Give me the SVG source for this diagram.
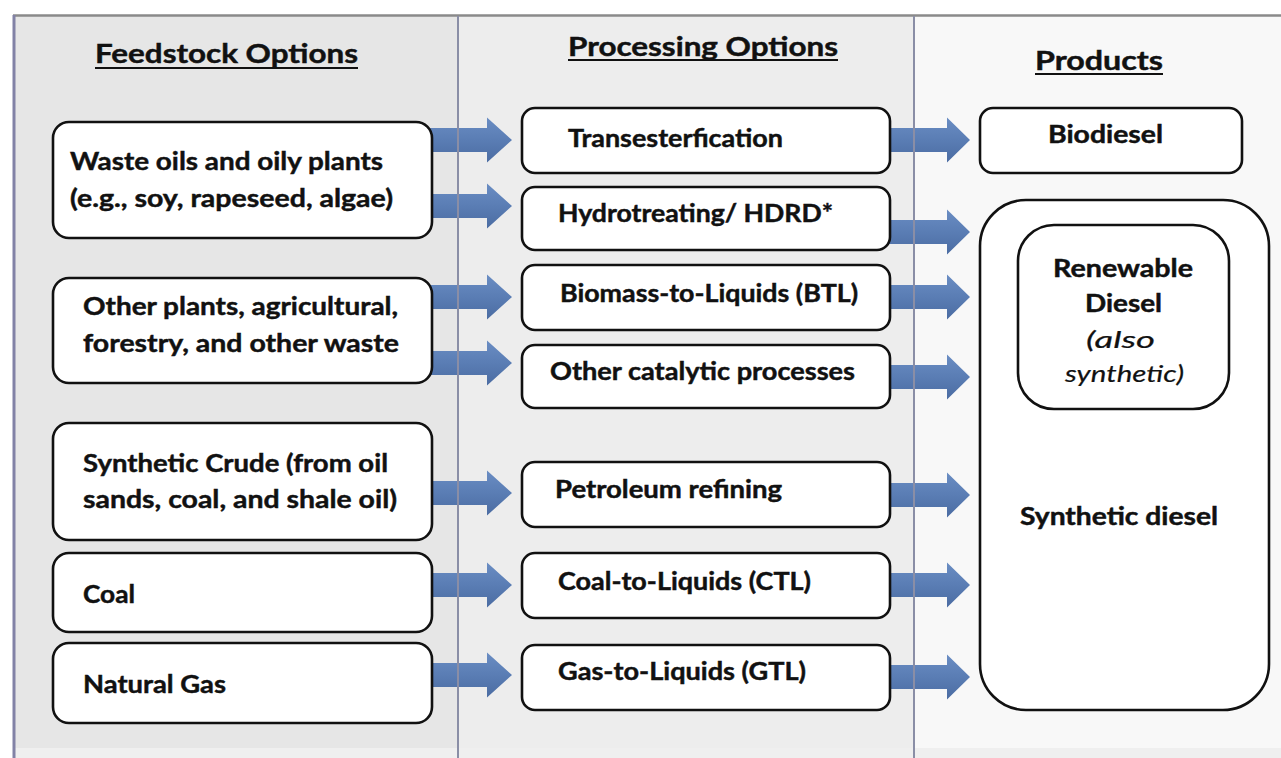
<svg xmlns="http://www.w3.org/2000/svg" width="1281" height="758" viewBox="0 0 1281 758">
<defs>
<linearGradient id="ag" x1="0" y1="0" x2="0" y2="1">
<stop offset="0" stop-color="#6a8dc3"/>
<stop offset="0.5" stop-color="#5a7db4"/>
<stop offset="1" stop-color="#4b6ca2"/>
</linearGradient>
<style>
.bx{fill:#ffffff;stroke:#111111;stroke-width:2.6}
.t{font-family:Lato,"Liberation Sans",sans-serif;font-weight:bold;fill:#111111;stroke:#111111;stroke-width:0.45}
.l{font-size:25px}
.m{font-size:24px}
.r{font-size:24px}
.h{font-size:27px}
.it{font-family:Lato,"Liberation Sans",sans-serif;font-style:italic;font-size:24px;fill:#111111;stroke:#111111;stroke-width:0.2}
.ar{fill:url(#ag)}
.ul{stroke:#111111;stroke-width:2}
.dv{stroke:#8a8ea6;stroke-width:2}
</style>
</defs>
<rect width="1281" height="758" fill="#ffffff"/>
<g id="background">
<rect x="13" y="15" width="445" height="743" fill="#e6e6e6"/>
<rect x="458" y="15" width="456" height="743" fill="#ededed"/>
<rect x="914" y="15" width="367" height="743" fill="#f8f8f8"/>
<rect x="13" y="748" width="1268" height="10" fill="#efefef"/>
<line x1="13" y1="15.5" x2="1281" y2="15.5" stroke="#8a8a8a" stroke-width="2.5"/>
<line x1="14" y1="15" x2="14" y2="758" stroke="#8282a6" stroke-width="3"/>
</g>
<g id="headers">
<text class="t h" x="95" y="63" textLength="263" lengthAdjust="spacingAndGlyphs">Feedstock Options</text>
<line class="ul" x1="95" y1="68" x2="358" y2="68"/>
<text class="t h" x="568" y="56" textLength="270" lengthAdjust="spacingAndGlyphs">Processing Options</text>
<line class="ul" x1="568" y1="60" x2="838" y2="60"/>
<text class="t h" x="1035" y="70" textLength="128" lengthAdjust="spacingAndGlyphs">Products</text>
<line class="ul" x1="1035" y1="74" x2="1163" y2="74"/>
</g>
<g id="connectors">
<path class="ar" d="M425 128 H487 V117.5 L512 140 L487 162.5 V152 H425 Z"/>
<path class="ar" d="M425 194 H487 V183.5 L512 206 L487 228.5 V218 H425 Z"/>
<path class="ar" d="M425 285 H487 V274.5 L512 297 L487 319.5 V309 H425 Z"/>
<path class="ar" d="M425 351 H487 V340.5 L512 363 L487 385.5 V375 H425 Z"/>
<path class="ar" d="M425 481 H487 V470.5 L512 493 L487 515.5 V505 H425 Z"/>
<path class="ar" d="M425 573 H487 V562.5 L512 585 L487 607.5 V597 H425 Z"/>
<path class="ar" d="M425 663 H487 V652.5 L512 675 L487 697.5 V687 H425 Z"/>
<path class="ar" d="M885 128 H947 V117.5 L970 140 L947 162.5 V152 H885 Z"/>
<path class="ar" d="M885 220 H947 V209.5 L970 232 L947 254.5 V244 H885 Z"/>
<path class="ar" d="M885 285 H947 V274.5 L970 297 L947 319.5 V309 H885 Z"/>
<path class="ar" d="M885 365 H947 V354.5 L970 377 L947 399.5 V389 H885 Z"/>
<path class="ar" d="M885 483 H947 V472.5 L970 495 L947 517.5 V507 H885 Z"/>
<path class="ar" d="M885 573 H947 V562.5 L970 585 L947 607.5 V597 H885 Z"/>
<path class="ar" d="M885 665 H947 V654.5 L970 677 L947 699.5 V689 H885 Z"/>
</g>
<g id="dividers">
<line class="dv" x1="458" y1="16" x2="458" y2="758"/>
<line class="dv" x1="914" y1="16" x2="914" y2="758"/>
</g>
<g id="feed-waste-oils">
<rect class="bx" x="53" y="122" width="379" height="116" rx="16"/>
<text class="t l" x="70" y="170" textLength="313" lengthAdjust="spacingAndGlyphs">Waste oils and oily plants</text>
<text class="t l" x="70" y="207" textLength="323" lengthAdjust="spacingAndGlyphs">(e.g., soy, rapeseed, algae)</text>
</g>
<g id="feed-other-plants">
<rect class="bx" x="53" y="278" width="379" height="105" rx="16"/>
<text class="t l" x="83" y="315" textLength="315" lengthAdjust="spacingAndGlyphs">Other plants, agricultural,</text>
<text class="t l" x="83" y="352" textLength="316" lengthAdjust="spacingAndGlyphs">forestry, and other waste</text>
</g>
<g id="feed-synthetic-crude">
<rect class="bx" x="53" y="423" width="379" height="117" rx="16"/>
<text class="t l" x="83" y="472" textLength="305" lengthAdjust="spacingAndGlyphs">Synthetic Crude (from oil</text>
<text class="t l" x="83" y="508" textLength="314" lengthAdjust="spacingAndGlyphs">sands, coal, and shale oil)</text>
</g>
<g id="feed-coal">
<rect class="bx" x="53" y="553" width="379" height="79" rx="16"/>
<text class="t l" x="83" y="603" textLength="52" lengthAdjust="spacingAndGlyphs">Coal</text>
</g>
<g id="feed-natural-gas">
<rect class="bx" x="53" y="643" width="379" height="80" rx="16"/>
<text class="t l" x="83" y="693" textLength="143" lengthAdjust="spacingAndGlyphs">Natural Gas</text>
</g>
<g id="proc-transesterfication">
<rect class="bx" x="522" y="108" width="368" height="65" rx="13"/>
<text class="t m" x="568" y="147" textLength="215" lengthAdjust="spacingAndGlyphs">Transesterfication</text>
</g>
<g id="proc-hydrotreating">
<rect class="bx" x="522" y="187" width="368" height="63" rx="13"/>
<text class="t m" x="558" y="222" textLength="275" lengthAdjust="spacingAndGlyphs">Hydrotreating/ HDRD*</text>
</g>
<g id="proc-btl">
<rect class="bx" x="522" y="265" width="368" height="65" rx="13"/>
<text class="t m" x="560" y="302" textLength="298" lengthAdjust="spacingAndGlyphs">Biomass-to-Liquids (BTL)</text>
</g>
<g id="proc-other-catalytic">
<rect class="bx" x="522" y="345" width="368" height="63" rx="13"/>
<text class="t m" x="550" y="380" textLength="305" lengthAdjust="spacingAndGlyphs">Other catalytic processes</text>
</g>
<g id="proc-petroleum">
<rect class="bx" x="522" y="462" width="368" height="65" rx="13"/>
<text class="t m" x="555" y="498" textLength="227" lengthAdjust="spacingAndGlyphs">Petroleum refining</text>
</g>
<g id="proc-ctl">
<rect class="bx" x="522" y="553" width="368" height="65" rx="13"/>
<text class="t m" x="558" y="590" textLength="253" lengthAdjust="spacingAndGlyphs">Coal-to-Liquids (CTL)</text>
</g>
<g id="proc-gtl">
<rect class="bx" x="522" y="645" width="368" height="65" rx="13"/>
<text class="t m" x="558" y="680" textLength="248" lengthAdjust="spacingAndGlyphs">Gas-to-Liquids (GTL)</text>
</g>
<g id="prod-biodiesel">
<rect class="bx" x="980" y="108" width="262" height="65" rx="13"/>
<text class="t r" x="1048" y="143" textLength="115" lengthAdjust="spacingAndGlyphs">Biodiesel</text>
</g>
<g id="prod-synthetic-diesel">
<rect class="bx" x="980" y="200" width="289" height="510" rx="46"/>
<text class="t m" x="1020" y="525" textLength="198" lengthAdjust="spacingAndGlyphs">Synthetic diesel</text>
</g>
<g id="prod-renewable-diesel">
<rect class="bx" x="1018" y="225" width="211" height="184" rx="36"/>
<text class="t r" x="1053" y="277" textLength="140" lengthAdjust="spacingAndGlyphs">Renewable</text>
<text class="t r" x="1085" y="312" textLength="77" lengthAdjust="spacingAndGlyphs">Diesel</text>
<text class="it" x="1086" y="348" textLength="69" lengthAdjust="spacingAndGlyphs">(also</text>
<text class="it" x="1065" y="382" textLength="119" lengthAdjust="spacingAndGlyphs">synthetic)</text>
</g>
</svg>
